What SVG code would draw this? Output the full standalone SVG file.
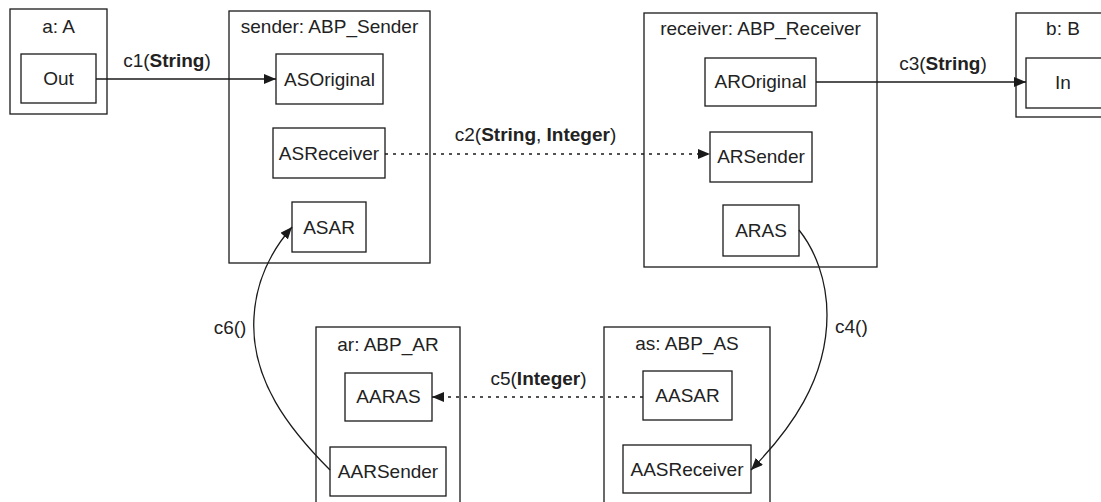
<svg xmlns="http://www.w3.org/2000/svg" width="1101" height="502" viewBox="0 0 1101 502">
<defs>
<style>
.box{fill:#fff;stroke:#1a1a1a;stroke-width:1.3}
.port{fill:#fff;stroke:#1a1a1a;stroke-width:1.3}
text{font-family:"Liberation Sans",Arial,sans-serif;font-size:19px;fill:#222;text-anchor:middle}
.b{font-weight:bold}
.conn{fill:none;stroke:#1a1a1a;stroke-width:1.3}
.dot{stroke-dasharray:3,5}
</style>
<marker id="arr" viewBox="0 0 12 10" refX="12" refY="5" markerWidth="12" markerHeight="10" markerUnits="userSpaceOnUse" orient="auto">
<path d="M0,0 L12,5 L0,10 Z" fill="#1a1a1a"/>
</marker>
</defs>
<rect width="1101" height="502" fill="#fff"/>

<g id="node-a">
<rect class="box" x="10" y="9" width="97" height="105"/>
<text x="58.5" y="33">a: A</text>
<rect class="port" x="21" y="54" width="75" height="49"/>
<text x="58.5" y="85">Out</text>
</g>

<g id="node-sender">
<rect class="box" x="229" y="11" width="201" height="252"/>
<text x="329.5" y="33">sender: ABP_Sender</text>
<rect class="port" x="276" y="54" width="107" height="50"/>
<text x="329.5" y="86">ASOriginal</text>
<rect class="port" x="273" y="128" width="112" height="50"/>
<text x="329" y="160">ASReceiver</text>
<rect class="port" x="292" y="202" width="74" height="50"/>
<text x="329" y="234">ASAR</text>
</g>

<g id="node-receiver">
<rect class="box" x="644" y="13" width="233" height="254"/>
<text x="760.5" y="35">receiver: ABP_Receiver</text>
<rect class="port" x="705" y="58" width="111" height="48"/>
<text x="760.5" y="88">AROriginal</text>
<rect class="port" x="710" y="132" width="102" height="50"/>
<text x="761" y="163">ARSender</text>
<rect class="port" x="723" y="205" width="76" height="51"/>
<text x="761" y="237">ARAS</text>
</g>

<g id="node-b">
<rect class="box" x="1016" y="13" width="100" height="104"/>
<text x="1063" y="35">b: B</text>
<rect class="port" x="1026" y="58" width="80" height="50"/>
<text x="1063" y="89">In</text>
</g>

<g id="node-ar">
<rect class="box" x="316" y="327" width="144" height="200"/>
<text x="388" y="351">ar: ABP_AR</text>
<rect class="port" x="345" y="373" width="87" height="48"/>
<text x="388.5" y="403">AARAS</text>
<rect class="port" x="330" y="447" width="116" height="49"/>
<text x="388" y="478">AARSender</text>
</g>

<g id="node-as">
<rect class="box" x="604" y="327" width="166" height="200"/>
<text x="687" y="350">as: ABP_AS</text>
<rect class="port" x="643" y="371" width="89" height="49"/>
<text x="687.5" y="402">AASAR</text>
<rect class="port" x="623" y="445" width="128" height="48"/>
<text x="687" y="476">AASReceiver</text>
</g>

<g id="connectors">
<path class="conn" d="M96,79 L276,79" marker-end="url(#arr)"/>
<text x="167" y="67">c1(<tspan class="b">String</tspan>)</text>
<path class="conn dot" d="M385,154 L710,154" marker-end="url(#arr)"/>
<text x="535.5" y="141">c2(<tspan class="b">String</tspan>, <tspan class="b">Integer</tspan>)</text>
<path class="conn" d="M816,82 L1026,82" marker-end="url(#arr)"/>
<text x="943" y="70">c3(<tspan class="b">String</tspan>)</text>
<path class="conn" d="M799,230 C815,250 827,280 827,315 C827,380 790,430 751,470" marker-end="url(#arr)"/>
<text x="835" y="333" style="text-anchor:start">c4()</text>
<path class="conn dot" d="M643,397 L432,397" marker-end="url(#arr)"/>
<text x="538.5" y="385">c5(<tspan class="b">Integer</tspan>)</text>
<path class="conn" d="M330,470 C290,430 250,380 254,317 C256,280 272,250 292,227" marker-end="url(#arr)"/>
<text x="230" y="334">c6()</text>
</g>
</svg>
